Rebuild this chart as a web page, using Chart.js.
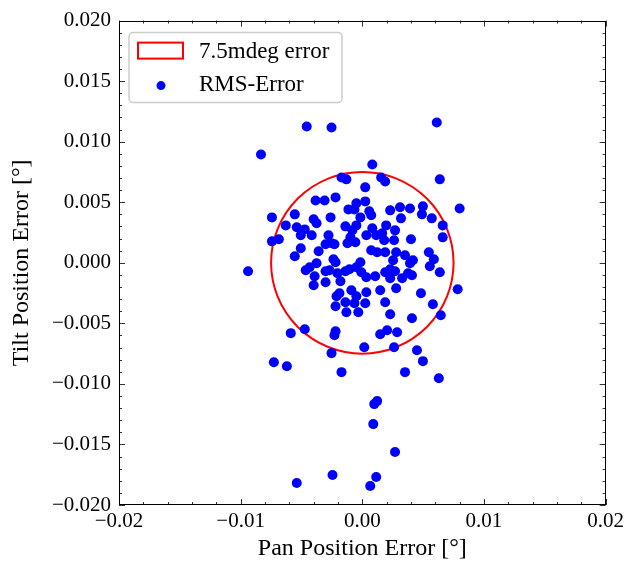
<!DOCTYPE html>
<html>
<head>
<meta charset="utf-8">
<script src="https://cdn.jsdelivr.net/npm/chart.js@4.4.1/dist/chart.umd.min.js"></script>
<style>
  html, body { margin: 0; padding: 0; background: #fff; }
  #wrap { width: 628px; height: 561px; }
</style>
</head>
<body>
<div id="wrap"><canvas id="c" width="628" height="561"></canvas></div>
<script>
// ---- data ----
const panError = [
  -0.00457, -0.00253, -0.00833, 0.00612, 0.00082, -0.00171, -0.00131, 0.00155, 0.00188, 0.00637,
  0.00024, -0.0022, -0.0031, -0.00384, -0.00049, 0.00024, -0.00114, -0.00065, 0.00057, 0.008,
  0.00229, 0.0031, 0.00392, 0.00498, 0.0049, 0.00571, 0.00318, 0.00073, -0.00016, -0.00743,
  -0.00555, -0.004, -0.00261, -0.00629, -0.00743, -0.00686, -0.00539, -0.00473, -0.00506, -0.00416,
  -0.00376, -0.00139, -0.00082, -0.00278, -0.00253, -0.00229, -0.00302, -0.00122, -0.00098, -0.00057,
  -0.00359, -0.00506, -0.00555, -0.00376, -0.00433, -0.00465, -0.00392, -0.004, -0.00302, -0.00269,
  -0.00302, -0.00204, -0.0018, -0.00139, -0.00106, -0.00049, -0.00237, -0.0022, -0.00212, -0.00188,
  -0.0022, -0.00139, -0.00131, -0.00065, -0.00033, -0.0009, -0.00939, 0.00661, 0.00661, -0.00049,
  0.00033, 0.00082, 0.00114, 0.00163, 0.00196, 0.00269, 0.0018, 0.00261, 0.004, 0.00073,
  0.00122, 0.00188, 0.00278, 0.00253, 0.00351, 0.00416, 0.00392, 0.00547, 0.00588, 0.00555,
  0.00637, -0.00016, -0.00008, 0.00033, 0.00106, 0.00188, 0.00229, 0.00269, 0.00229, 0.00327,
  0.00376, 0.00408, 0.00784, 0.00482, 0.00033, 0.00147, 0.00278, -0.00049, 0.00188, 0.00024,
  0.0058, 0.00408, 0.00645, 0.00229, -0.00588, -0.00473, -0.0022, -0.00229, 0.00147, 0.00204,
  0.00286, 0.00016, 0.00261, -0.00253, 0.00449, -0.00727, -0.0062, -0.00171, 0.00498, 0.00351,
  0.00629, 0.00122, 0.00098, 0.0009, 0.00269, -0.00245, -0.00539, 0.00114, 0.00065
];
const tiltError = [
  0.01126, 0.01117, 0.00895, 0.01159, 0.00812, 0.00705, 0.00689, 0.00705, 0.00672, 0.00689,
  0.00623, 0.0054, 0.00515, 0.00515, 0.00491, 0.00507, 0.00441, 0.00441, 0.00425, 0.00449,
  0.00433, 0.00458, 0.00449, 0.00466, 0.004, 0.00367, 0.00367, 0.00392, 0.00375, 0.00375,
  0.004, 0.00359, 0.00375, 0.00309, 0.00177, 0.00194, 0.00293, 0.00276, 0.00227, 0.00227,
  0.00326, 0.00301, 0.00268, 0.00227, 0.00161, 0.00153, 0.00153, 0.00161, 0.0021, 0.00169,
  0.00095, 0.0012, 0.00054, -0.00004, -0.00037, -0.00062, -0.00111, -0.00186, -0.0007, -0.00062,
  -0.00161, -0.00087, -0.00153, -0.0007, -0.00054, -0.00037, 0.00029, 0.00004, -0.00276, -0.00252,
  -0.00359, -0.00326, -0.00408, -0.00334, -0.00408, -0.00227, -0.0007, 0.00309, 0.0021, 0.00309,
  0.00227, 0.00285, 0.00227, 0.00243, 0.00309, 0.00268, 0.00186, 0.00186, 0.00194, 0.00103,
  0.00087, 0.00087, 0.00087, 0.00021, 0.00062, 0.00021, -0.00004, 0.00087, 0.00029, -0.00029,
  -0.00078, 0.00004, -0.00078, -0.0012, -0.00111, -0.00078, -0.00054, -0.0007, -0.00128, -0.00128,
  -0.00087, -0.00103, -0.00219, -0.00252, -0.00243, -0.00227, -0.0021, -0.00276, -0.00326, -0.00334,
  -0.00342, -0.00458, -0.00433, -0.00425, -0.00581, -0.00548, -0.00565, -0.00598, -0.0059, -0.00557,
  -0.00573, -0.00697, -0.00697, -0.00746, -0.00722, -0.00821, -0.00854, -0.00903, -0.00812, -0.00903,
  -0.00953, -0.01142, -0.01167, -0.01332, -0.01563, -0.01753, -0.01819, -0.01769, -0.01843
];
const errorRadius = 0.0075;            // 7.5 mdeg circle
const xTickValues = [-0.02, -0.01, 0, 0.01, 0.02];
const xTickLabels = ['\u22120.02', '\u22120.01', '0.00', '0.01', '0.02'];
const yTickValues = [-0.02, -0.015, -0.01, -0.005, 0, 0.005, 0.01, 0.015, 0.02];
const yTickLabels = ['\u22120.020', '\u22120.015', '\u22120.010', '\u22120.005', '0.000', '0.005', '0.010', '0.015', '0.020'];
const xMinorStep = 0.002;
const yMinorStep = 0.001;
const legendLabels = ['7.5mdeg error', 'RMS-Error'];
const xTitle = 'Pan Position Error [\u00b0]';
const yTitle = 'Tilt Position Error [\u00b0]';

const FONT = '"Liberation Serif", "DejaVu Serif", serif';
const FS = 21;       // tick labels
const FS_T = 24;     // axis titles
const FS_L = 23;     // legend

const points = panError.map((x, i) => ({ x: x, y: tiltError[i] }));

const decor = {
  id: 'decor',
  beforeDatasetsDraw(chart) {
    const { ctx, scales: { x, y } } = chart;
    const cx = x.getPixelForValue(0), cy = y.getPixelForValue(0);
    const rx = Math.abs(x.getPixelForValue(errorRadius) - cx);
    const ry = Math.abs(y.getPixelForValue(errorRadius) - cy);
    ctx.save();
    ctx.strokeStyle = '#ff0000';
    ctx.lineWidth = 2;
    ctx.beginPath();
    ctx.ellipse(cx, cy, rx, ry, 0, 0, Math.PI * 2);
    ctx.stroke();
    ctx.restore();
  },
  afterDatasetsDraw(chart) {
    const { ctx, chartArea: a, scales: { x, y } } = chart;
    ctx.save();
    ctx.strokeStyle = '#000';
    ctx.lineWidth = 1;
    ctx.strokeRect(Math.round(a.left) + 0.5, Math.round(a.top) + 0.5, Math.round(a.right - a.left) - 1, Math.round(a.bottom - a.top) - 1);
    ctx.lineWidth = 0.8;
    const major = 6, minor = 3;
    const near = (v, arr) => arr.some(t => Math.abs(t - v) < 1e-9);
    for (let v = -0.02; v <= 0.02 + 1e-9; v += xMinorStep) {
      const vv = Math.round(v * 1e6) / 1e6;
      const len = near(vv, xTickValues) ? major : minor;
      const px = Math.round(x.getPixelForValue(vv)) + 0.5;
      ctx.beginPath();
      ctx.moveTo(px, a.bottom); ctx.lineTo(px, a.bottom - len);
      ctx.moveTo(px, a.top); ctx.lineTo(px, a.top + len);
      ctx.stroke();
    }
    for (let v = -0.02; v <= 0.02 + 1e-9; v += yMinorStep) {
      const vv = Math.round(v * 1e6) / 1e6;
      const len = near(vv, yTickValues) ? major : minor;
      const py = Math.round(y.getPixelForValue(vv)) + 0.5;
      ctx.beginPath();
      ctx.moveTo(a.left, py); ctx.lineTo(a.left + len, py);
      ctx.moveTo(a.right, py); ctx.lineTo(a.right - len, py);
      ctx.stroke();
    }
    // legend
    const lx = a.left + 10, ly = a.top + 12, lw = 213, lh = 70;
    ctx.fillStyle = 'rgba(255,255,255,0.8)';
    ctx.strokeStyle = '#cccccc';
    ctx.lineWidth = 1.5;
    ctx.beginPath();
    ctx.roundRect(lx, ly, lw, lh, 4);
    ctx.fill();
    ctx.stroke();
    ctx.strokeStyle = '#ff0000';
    ctx.lineWidth = 2;
    ctx.strokeRect(lx + 9, ly + 10, 45, 16);
    ctx.fillStyle = '#0000ff';
    ctx.beginPath();
    ctx.arc(lx + 32, ly + 53, 4.5, 0, Math.PI * 2);
    ctx.fill();
    ctx.fillStyle = '#000';
    ctx.font = FS_L + 'px ' + FONT;
    ctx.textBaseline = 'middle';
    ctx.textAlign = 'left';
    ctx.fillText(legendLabels[0], lx + 70, ly + 19);
    ctx.fillText(legendLabels[1], lx + 70, ly + 52);
    ctx.restore();
  }
};

new Chart(document.getElementById('c'), {
  type: 'scatter',
  data: {
    datasets: [{
      label: legendLabels[1],
      data: points,
      backgroundColor: '#0000ff',
      borderWidth: 0,
      pointRadius: 5,
      pointHoverRadius: 5
    }]
  },
  options: {
    responsive: false,
    animation: false,
    events: [],
    layout: { padding: { top: 20, right: 19, left: 0, bottom: 0 } },
    plugins: { legend: { display: false }, tooltip: { enabled: false } },
    scales: {
      x: {
        type: 'linear', min: -0.02, max: 0.02,
        afterBuildTicks: s => { s.ticks = xTickValues.map(v => ({ value: v })); },
        afterFit: s => { s.height = 56; },
        grid: { display: false, drawTicks: false },
        border: { display: false },
        ticks: {
          padding: 4, color: '#000', maxRotation: 0,
          font: { family: FONT, size: FS },
          callback: (v) => { const i = xTickValues.findIndex(t => Math.abs(t - v) < 1e-9); return i >= 0 ? xTickLabels[i] : ''; }
        },
        title: { display: true, text: xTitle, color: '#000', font: { family: FONT, size: FS_T }, padding: { top: 0, bottom: -2 } }
      },
      y: {
        type: 'linear', min: -0.02, max: 0.02,
        afterBuildTicks: s => { s.ticks = yTickValues.map(v => ({ value: v })); },
        afterFit: s => { s.width = 119; },
        grid: { display: false, drawTicks: false },
        border: { display: false },
        ticks: {
          padding: 8, color: '#000',
          font: { family: FONT, size: FS },
          callback: (v) => { const i = yTickValues.findIndex(t => Math.abs(t - v) < 1e-9); return i >= 0 ? yTickLabels[i] : ''; }
        },
        title: { display: true, text: yTitle, color: '#000', font: { family: FONT, size: FS_T }, padding: { top: 7, bottom: 0 } }
      }
    }
  },
  plugins: [decor]
});
</script>
</body>
</html>
